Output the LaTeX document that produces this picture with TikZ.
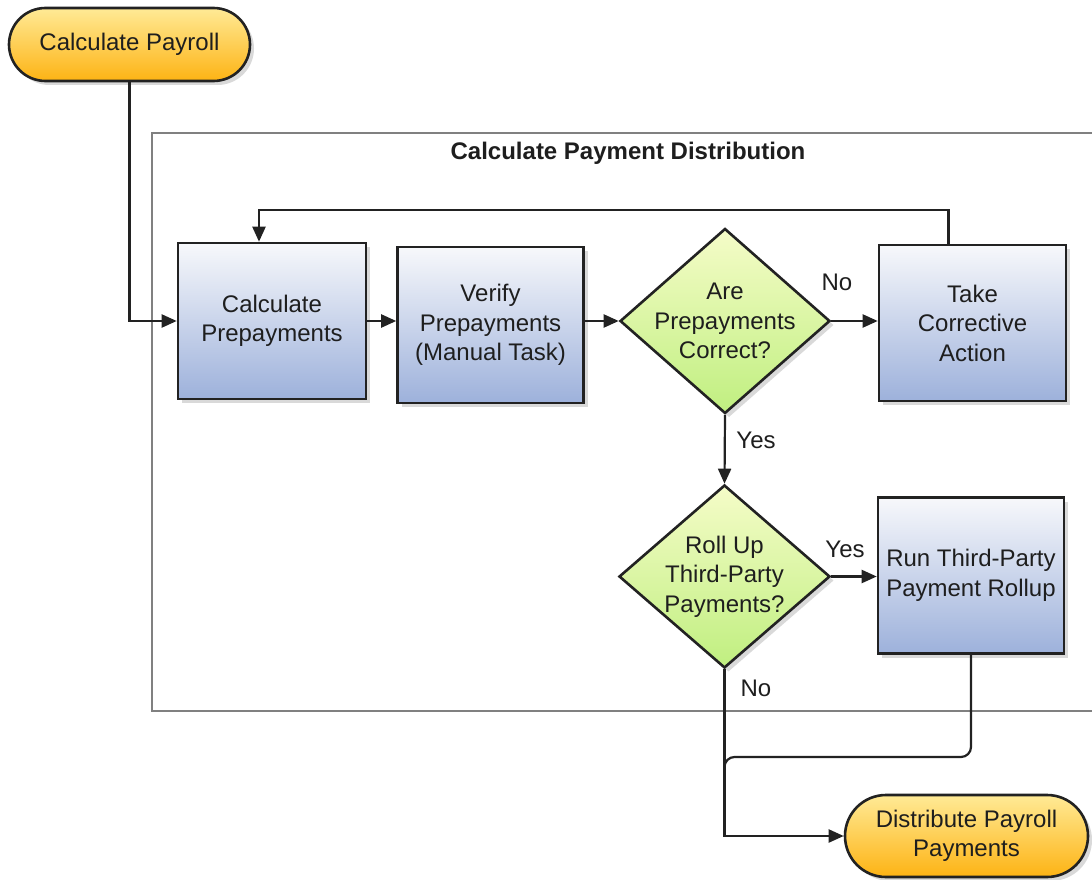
\documentclass[tikz,border=0pt]{standalone}
\usepackage{fontspec}
\setmainfont{Liberation Sans}
\usetikzlibrary{shapes.geometric,shapes.misc,arrows.meta,shadows,calc}
\definecolor{boxtop}{HTML}{F7F8FB}
\definecolor{boxbot}{HTML}{9DB1DB}
\definecolor{diatop}{HTML}{F5FCC8}
\definecolor{diabot}{HTML}{C0EF80}
\definecolor{termtop}{HTML}{FFEA96}
\definecolor{termbot}{HTML}{FDB314}
\definecolor{edge}{HTML}{222222}
\definecolor{txt}{HTML}{1E1E1E}
\begin{document}
\begin{tikzpicture}[x=1pt,y=-1pt,
  font=\fontsize{24}{29.5}\selectfont,
  text=txt,
  shadowed/.style={drop shadow={shadow xshift=4pt,shadow yshift=-4pt,fill=black,opacity=0.15}},
  procbox/.style={rectangle,draw=edge,line width=2.6pt,top color=boxtop,bottom color=boxbot,
    align=center,inner sep=0pt,shadowed},
  decision/.style={diamond,draw=edge,line width=2.6pt,top color=diatop,bottom color=diabot,
    align=center,inner sep=-14pt,shadowed},
  terminal/.style={rounded rectangle,draw=edge,line width=2.6pt,top color=termtop,bottom color=termbot,
    align=center,inner sep=0pt,shadowed},
  conn/.style={draw=edge,line width=2.2pt,-{Triangle[length=15pt,width=13pt]}},
  plainconn/.style={draw=edge,line width=2.2pt},
  lbl/.style={inner sep=0pt}
]
\useasboundingbox (0,0) rectangle (1092,880);
\clip (0,0) rectangle (1092,880);
\fill[white] (0,0) rectangle (1092,880);

% frame
\draw[draw=black!50,line width=2pt] (152,133) rectangle (1110,711);
\node[lbl,font=\fontsize{24}{29}\selectfont\bfseries] (title) at (628,153) {Calculate Payment Distribution};

% nodes
\node[terminal,minimum width=241pt,minimum height=73pt] (payroll) at (129.5,44.5) {Calculate Payroll};
\node[procbox,minimum width=188pt,minimum height=156pt] (calcpre) at (272,321) {Calculate\\Prepayments};
\node[procbox,minimum width=186pt,minimum height=156pt] (verify) at (490.5,325) {Verify\\Prepayments\\(Manual Task)};
\node[decision,minimum width=210pt,minimum height=185pt] (dia1) at (725,321) {Are\\Prepayments\\Correct?};
\node[procbox,minimum width=187pt,minimum height=156pt] (take) at (972.5,323) {Take\\Corrective\\Action};
\node[decision,minimum width=211pt,minimum height=183pt] (dia2) at (724.5,576.5) {Roll Up\\Third-Party\\Payments?};
\node[procbox,minimum width=186pt,minimum height=156pt] (run) at (971,575.5) {Run Third-Party\\Payment Rollup};
\node[terminal,minimum width=243pt,minimum height=82pt] (dist) at (966.5,836) {Distribute Payroll\\Payments};

% connectors
\draw[conn] (payroll.south) |- (calcpre.west);
\draw[conn] (calcpre.east) -- (calcpre.east -| verify.west);
\draw[conn] (dia1.west -| verify.east) -- (dia1.west);
\draw[conn] (dia1.east) -- (dia1.east -| take.west);
\draw[conn] ([xshift=-24pt]take.north) -- ++(0,-34) -| ([xshift=-13pt]calcpre.north);
\draw[conn] (dia1.south) -- (dia2.north);
\draw[conn] (dia2.east) -- (dia2.east -| run.west);
\draw[conn] (dia2.south) |- (dist.west);
\coordinate (merge) at (dia2.south |- 0,757);
\draw[plainconn,rounded corners=10pt] (run.south) |- (merge) -- ++(0,40);

% labels
\node[lbl] (no1) at (837,282) {No};
\node[lbl] (yes1) at (756,440) {Yes};
\node[lbl] (yes2) at (845,549) {Yes};
\node[lbl] (no2) at (756,688) {No};
\end{tikzpicture}
\end{document}
